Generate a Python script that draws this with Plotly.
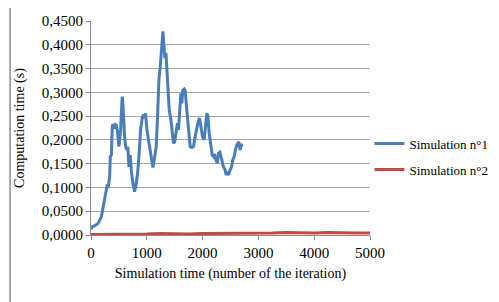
import plotly.graph_objects as go

# ---- data ----
sim1_x = [0, 20, 60, 125, 185, 215, 262, 287, 310, 334, 346, 365, 381, 395, 423, 440, 453, 475,
          500, 515, 531, 545, 560, 575, 590, 602, 620, 644, 660, 680, 704, 722, 752, 781, 811,
          841, 871, 888, 918, 942, 960, 978, 1002, 1030, 1049, 1075, 1092, 1110, 1133, 1169,
          1193, 1217, 1241, 1271, 1289, 1307, 1325, 1343, 1361, 1384, 1402, 1432, 1455, 1479,
          1500, 1527, 1550, 1568, 1586, 1610, 1628, 1646, 1670, 1690, 1706, 1729, 1753, 1777,
          1805, 1837, 1855, 1885, 1915, 1944, 1969, 1998, 2028, 2046, 2076, 2095, 2118, 2148,
          2172, 2195, 2215, 2237, 2266, 2285, 2310, 2345, 2374, 2404, 2422, 2446, 2464, 2494,
          2518, 2541, 2565, 2589, 2613, 2649, 2673, 2696, 2720]
sim1_y = [0.012, 0.017, 0.019, 0.024, 0.038, 0.059, 0.094, 0.103, 0.102, 0.122, 0.165, 0.168,
          0.228, 0.233, 0.224, 0.232, 0.231, 0.218, 0.186, 0.200, 0.221, 0.260, 0.291, 0.270,
          0.230, 0.207, 0.186, 0.179, 0.186, 0.143, 0.168, 0.136, 0.108, 0.091, 0.108, 0.137,
          0.186, 0.221, 0.246, 0.253, 0.245, 0.256, 0.221, 0.200, 0.186, 0.165, 0.158, 0.142,
          0.158, 0.186, 0.249, 0.326, 0.354, 0.411, 0.428, 0.397, 0.372, 0.383, 0.347, 0.312,
          0.263, 0.242, 0.221, 0.193, 0.196, 0.221, 0.235, 0.221, 0.249, 0.298, 0.277, 0.305,
          0.307, 0.303, 0.277, 0.242, 0.214, 0.186, 0.184, 0.186, 0.200, 0.221, 0.235, 0.246,
          0.228, 0.207, 0.200, 0.221, 0.256, 0.250, 0.214, 0.189, 0.168, 0.165, 0.170, 0.158,
          0.151, 0.172, 0.174, 0.158, 0.143, 0.137, 0.126, 0.133, 0.126, 0.137, 0.143, 0.158,
          0.165, 0.179, 0.189, 0.196, 0.179, 0.189, 0.191]

sim2_x = [0, 250, 500, 750, 1000, 1250, 1500, 1750, 2000, 2250, 2500, 2750, 3000, 3250, 3500,
          3750, 4000, 4250, 4500, 4750, 5000]
sim2_y = [0.001, 0.001, 0.002, 0.001, 0.002, 0.003, 0.002, 0.002, 0.003, 0.003, 0.004, 0.003,
          0.003, 0.004, 0.005, 0.004, 0.004, 0.005, 0.004, 0.004, 0.004]

y_tick_vals = [0, 0.05, 0.10, 0.15, 0.20, 0.25, 0.30, 0.35, 0.40, 0.45]
y_tick_text = ["0,0000", "0,0500", "0,1000", "0,1500", "0,2000", "0,2500", "0,3000",
               "0,3500", "0,4000", "0,4500"]
x_tick_vals = [0, 1000, 2000, 3000, 4000, 5000]

FONT = "Liberation Serif"

fig = go.Figure()
fig.add_trace(go.Scatter(x=sim1_x, y=sim1_y, mode="lines", name="Simulation n°1",
                         legendgroup="g1",
                         line=dict(color="#4A7EBB", width=3)))
fig.add_trace(go.Scatter(x=sim2_x, y=sim2_y, mode="lines", name="Simulation n°2",
                         legendgroup="g2",
                         line=dict(color="#BE4B48", width=3)))

# outer chart-area border (left and top visible)
fig.add_shape(type="line", xref="paper", yref="paper", x0=-0.29, x1=-0.29, y0=1.07, y1=-0.4,
              line=dict(color="#8C8C8C", width=1.5))
fig.add_shape(type="line", xref="paper", yref="paper", x0=-0.29, x1=1.6, y0=1.07, y1=1.07,
              line=dict(color="#8C8C8C", width=1.5))

# page body has an 8px margin, so the figure is 8px smaller and margins shifted
fig.update_layout(
    width=491, height=294,
    margin=dict(l=83, r=129, t=13, b=67, autoexpand=False),
    paper_bgcolor="white", plot_bgcolor="white",
    font=dict(family=FONT, size=15, color="black"),
    showlegend=True,
    legend=dict(x=0.998, y=0.497, xanchor="left", yanchor="top",
                font=dict(family=FONT, size=13), tracegroupgap=6,
                itemwidth=30, borderwidth=0,
                bgcolor="rgba(0,0,0,0)"),
    xaxis=dict(range=[0, 5000], tickvals=x_tick_vals, showgrid=False, zeroline=False,
               automargin=False,
               showline=True, linecolor="#8C8C8C", linewidth=1, ticks="outside",
               ticklen=4, tickcolor="#8C8C8C",
               title=dict(text="Simulation time (number of the iteration)",
                          font=dict(family=FONT, size=14), standoff=8)),
    yaxis=dict(range=[0, 0.45], tickvals=y_tick_vals, ticktext=y_tick_text,
               automargin=False,
               showgrid=True, gridcolor="#A6A6A6", gridwidth=1, zeroline=False,
               showline=True, linecolor="#8C8C8C", linewidth=1, ticks="outside",
               ticklen=4, tickcolor="#8C8C8C",
               title=dict(text="Computation time (s)", font=dict(family=FONT, size=14),
                          standoff=13)),
)

fig.write_html("out.html")
